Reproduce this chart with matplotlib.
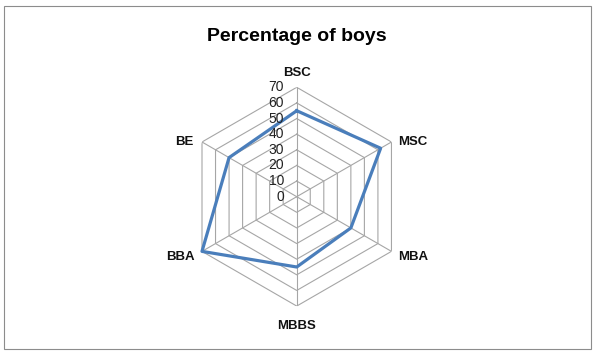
import matplotlib.pyplot as plt
import numpy as np
from matplotlib.patches import Rectangle

courses = ['BSC', 'MSC', 'MBA', 'MBBS', 'BBA', 'BE']
boys = [55, 62, 40, 45, 70, 50]
ticks = [0, 10, 20, 30, 40, 50, 60, 70]

plt.rcParams['font.family'] = ['Liberation Sans', 'DejaVu Sans']

fig = plt.figure(figsize=(5.95, 3.54), dpi=100)
fig.patches.append(Rectangle((0.007, 0.014), 0.986, 0.97, transform=fig.transFigure,
                             fill=False, edgecolor='#8c8c8c', lw=0.8))

ax = fig.add_axes([0.3148, 0.1354, 0.3678, 0.618], projection='polar')
ax.set_theta_zero_location('N')
ax.set_theta_direction(-1)
ax.set_ylim(0, 70)
ax.axis('off')

ang = np.arange(len(courses)) * 2 * np.pi / len(courses)
ang_c = np.append(ang, ang[0])

# hexagonal grid
for t in ticks[1:]:
    ax.plot(ang_c, [t] * len(ang_c), color='#a6a6a6', lw=0.8, zorder=1)
for a in ang:
    ax.plot([a, a], [0, 70], color='#a6a6a6', lw=0.8, zorder=1)

ax.plot(ang_c, boys + [boys[0]], color='#4a7ebb', lw=2.3, zorder=3, clip_on=False)

for t in ticks:
    ax.annotate(str(t), (0, t), xytext=(-9, 0), textcoords='offset points',
                ha='right', va='center', fontsize=10, color='#222222')

offs = [(0, 6, 'center', 'bottom'), (5, 0, 'left', 'center'), (5, -4, 'left', 'center'),
        (0, -10, 'center', 'top'), (-5, -4, 'right', 'center'), (-6, 0, 'right', 'center')]
for a, name, (dx, dy, ha, va) in zip(ang, courses, offs):
    ax.annotate(name, (a, 70), xytext=(dx, dy), textcoords='offset points',
                ha=ha, va=va, fontsize=9.5, fontweight='bold', color='#111111')

fig.text(0.499, 0.897, 'Percentage of boys', ha='center', va='center',
         fontsize=14, fontweight='bold')

fig.savefig('out.png', dpi=100)
